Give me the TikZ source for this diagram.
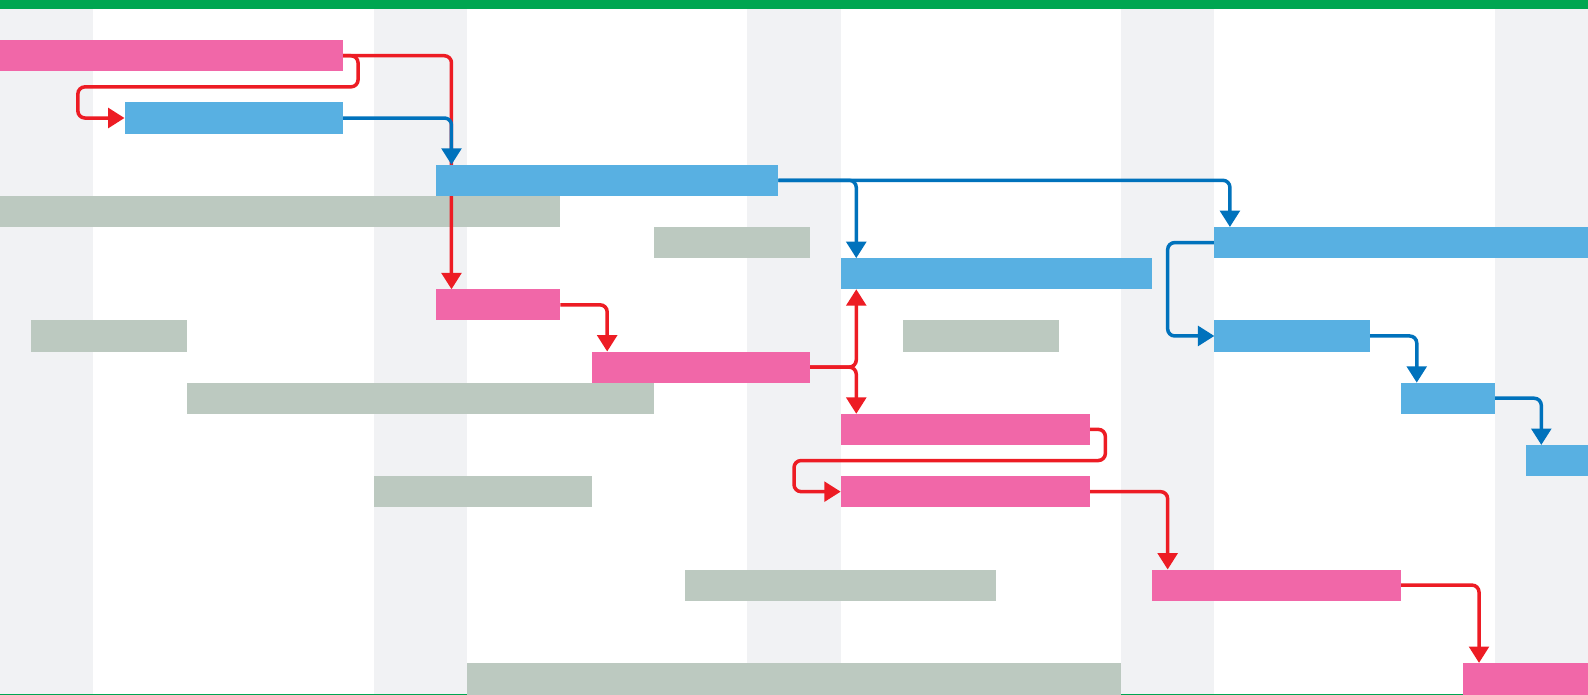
\documentclass[tikz,border=0pt]{standalone}
\usetikzlibrary{arrows.meta,calc}
\definecolor{weekshade}{HTML}{F1F2F4}
\definecolor{barpink}{HTML}{F167A8}
\definecolor{barblue}{HTML}{58B0E2}
\definecolor{bargray}{HTML}{BCC9C0}
\definecolor{linkred}{HTML}{ED1C24}
\definecolor{linkblue}{HTML}{0072BC}
\definecolor{framegreen}{HTML}{00A651}
\pgfdeclarelayer{back}
\pgfdeclarelayer{links}
\pgfsetlayers{back,links,main}
\begin{document}
\begin{tikzpicture}[
  x=1cm, y=1cm,
  bar/.style={rectangle, anchor=north west, inner sep=0pt, outer sep=0pt,
              minimum height=1cm, draw=none},
  task/.style={bar, fill=barpink},
  sub/.style={bar, fill=barblue},
  idle/.style={bar, fill=bargray},
  cut/.style={minimum height=1.1cm},
  link/.style={line width=3.2pt, rounded corners=6.5pt,
               -{Triangle[width=18pt,length=15pt]}},
  redlink/.style={link, draw=linkred},
  bluelink/.style={link, draw=linkblue},
]
\useasboundingbox (0,0) rectangle (51,-22.32);

% timeline background: header strip, shaded weekend columns, bottom rule
\begin{pgfonlayer}{back}
  \fill[framegreen] (0,0) rectangle (51,-0.29);
  \foreach \c in {0,12,24,36,48}
    \fill[weekshade] (\c,-0.29) rectangle ({\c+3},-22.32);
  \fill[framegreen] (0,-22.285) rectangle (51,-22.32);

  % slack / idle bars
  \node[idle, minimum width=18cm] (g5)  at (0,-6.29)  {};
  \node[idle, minimum width=5cm]  (g6)  at (21,-7.29) {};
  \node[idle, minimum width=5cm]  (g9a) at (1,-10.29) {};
  \node[idle, minimum width=5cm]  (g9b) at (29,-10.29) {};
  \node[idle, minimum width=15cm] (g11) at (6,-12.29) {};
  \node[idle, minimum width=7cm]  (g14) at (12,-15.29) {};
  \node[idle, minimum width=10cm] (g17) at (22,-18.29) {};
  \node[idle, minimum width=21cm, cut] (g20) at (15,-21.29) {};
\end{pgfonlayer}

% critical tasks (pink) and regular tasks (blue)
\node[task, minimum width=11cm] (p0)  at (0,-1.29)   {};
\node[sub,  minimum width=7cm]  (b2)  at (4,-3.29)   {};
\node[sub,  minimum width=11cm] (b4)  at (14,-5.29)  {};
\node[sub,  minimum width=12cm] (b6)  at (39,-7.29)  {};
\node[sub,  minimum width=10cm] (b7)  at (27,-8.29)  {};
\node[task, minimum width=4cm]  (p8)  at (14,-9.29)  {};
\node[sub,  minimum width=5cm]  (b9)  at (39,-10.29) {};
\node[task, minimum width=7cm]  (p10) at (19,-11.29) {};
\node[sub,  minimum width=3cm]  (b11) at (45,-12.29) {};
\node[task, minimum width=8cm]  (p12) at (27,-13.29) {};
\node[sub,  minimum width=2cm]  (b13) at (49,-14.29) {};
\node[task, minimum width=8cm]  (p14) at (27,-15.29) {};
\node[task, minimum width=8cm]  (p17) at (37,-18.29) {};
\node[task, minimum width=4cm, cut] (p20) at (47,-21.29) {};

% dependency links
\begin{pgfonlayer}{links}
  % critical path
  \draw[redlink] (p0.east) -| ([xshift=0.5cm]p8.north west);
  \draw[redlink] (p0.east) -- ++(0.5,0) -- ++(0,-1)
                 -| ([xshift=-1.5cm]b2.west) -- (b2.west);
  \draw[redlink] (p8.east) -| ([xshift=0.5cm]p10.north west);
  \draw[redlink] (p10.east) -| ([xshift=0.5cm]b7.south west);
  \draw[redlink] (p10.east) -| ([xshift=0.5cm]p12.north west);
  \draw[redlink] (p12.east) -- ++(0.5,0) -- ++(0,-1)
                 -| ([xshift=-1.5cm]p14.west) -- (p14.west);
  \draw[redlink] (p14.east) -| ([xshift=0.5cm]p17.north west);
  \draw[redlink] (p17.east) -| ([xshift=0.5cm]p20.north west);
  % regular links
  \draw[bluelink] (b2.east) -| ([xshift=0.5cm]b4.north west);
  \draw[bluelink] (b4.east) -| ([xshift=0.5cm]b6.north west);
  \draw[bluelink] (b4.east) -| ([xshift=0.5cm]b7.north west);
  \draw[bluelink] (b6.west) -- ++(-1.5,0) |- (b9.west);
  \draw[bluelink] (b9.east) -| ([xshift=0.5cm]b11.north west);
  \draw[bluelink] (b11.east) -| ([xshift=0.5cm]b13.north west);
\end{pgfonlayer}
\end{tikzpicture}
\end{document}
